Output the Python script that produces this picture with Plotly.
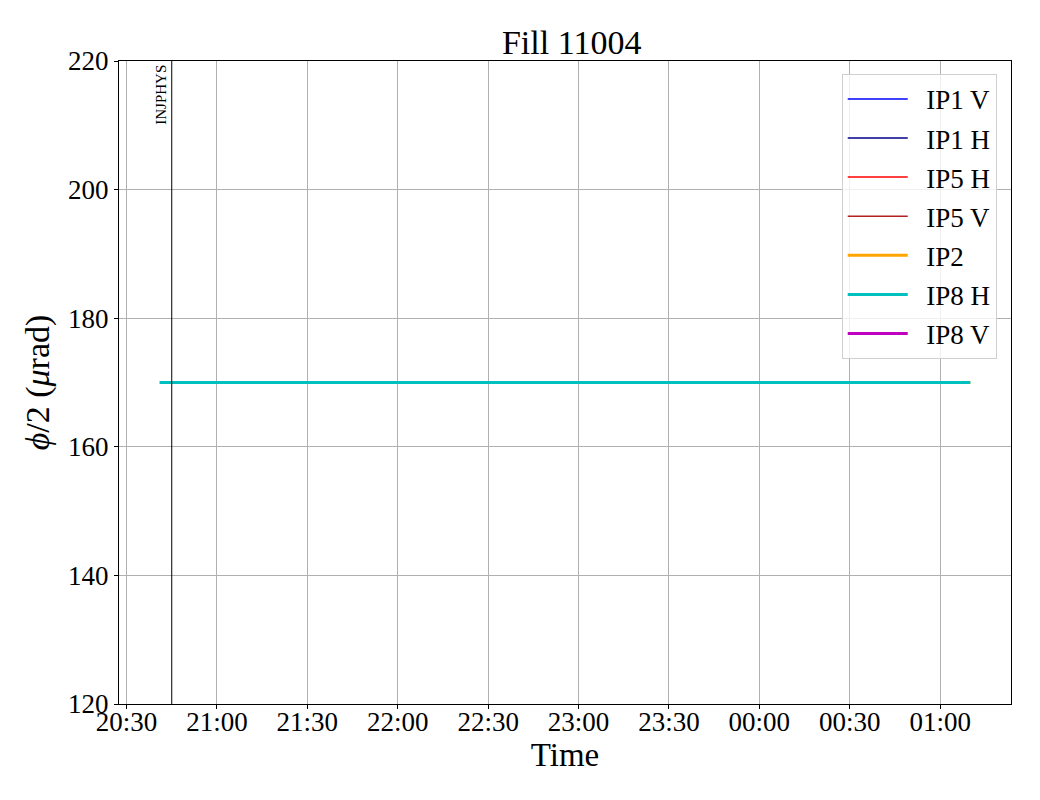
import plotly.graph_objects as go

# Data
series_names = ["IP1 V", "IP1 H", "IP5 H", "IP5 V", "IP2", "IP8 H", "IP8 V"]
series_colors = ["#0000ff", "#00008b", "#ff0000", "#b22222", "#ffa500", "#00bfbf", "#bf00bf"]
series_widths = [1.5, 1.5, 1.5, 1.5, 3, 3, 3]
times = ["2025-08-10 20:41:00", "2025-08-11 01:10:00"]
ip2_values = [170, 170]
ip8h_values = [170, 170]
series_data = {"IP2": ip2_values, "IP8 H": ip8h_values}
mode_time = "2025-08-10 20:45:00"
mode_label = "INJPHYS"

FONT = "Liberation Serif, Times New Roman, serif"

fig = go.Figure()
for i, (name, color, w) in enumerate(zip(series_names, series_colors, series_widths)):
    vals = series_data.get(name)
    fig.add_trace(go.Scatter(
        x=times if vals else [None], y=vals if vals else [None],
        mode="lines", name="\u00a0\u00a0" + name, legendgroup=f"g{i}",
        line=dict(color=color, width=w)))

fig.add_shape(type="line", xref="x", yref="paper", x0=mode_time, x1=mode_time,
              y0=0, y1=1, line=dict(color="black", width=1))
fig.add_annotation(x=mode_time, y=1, xref="x", yref="paper", text=mode_label,
                   textangle=-90, showarrow=False, xanchor="right", yanchor="top",
                   xshift=-1, yshift=-2, font=dict(family=FONT, size=15, color="black"))

fig.update_layout(
    width=1040, height=800,
    margin=dict(l=111, r=37, t=53, b=104),
    paper_bgcolor="white", plot_bgcolor="white",
    font=dict(family=FONT, size=27, color="black"),
    title=dict(text="Fill 11004", x=0.542, xanchor="center", y=0.9575, yanchor="middle",
               font=dict(family=FONT, size=34)),
    legend=dict(x=0.984, xanchor="right", y=0.98, yanchor="top",
                bordercolor="#d0d0d0", borderwidth=1, bgcolor="rgba(255,255,255,0.8)",
                font=dict(family=FONT, size=27), tracegroupgap=1, itemwidth=60),
    showlegend=True,
)
fig.update_xaxes(
    type="date", range=["2025-08-10 20:27:30", "2025-08-11 01:23:30"],
    tick0="2025-08-10 20:30:00", dtick=1800000, tickformat="%H:%M",
    showgrid=True, gridcolor="#b0b0b0", gridwidth=1,
    showline=True, linecolor="black", linewidth=1, mirror=True,
    ticks="outside", ticklen=4, tickcolor="black", ticklabelstandoff=-10,
    tickfont=dict(family=FONT, size=27),
    title=dict(text="Time", font=dict(family=FONT, size=33), standoff=2),
    zeroline=False)
fig.update_yaxes(
    range=[120, 220], tick0=120, dtick=20,
    showgrid=True, gridcolor="#b0b0b0", gridwidth=1,
    showline=True, linecolor="black", linewidth=1, mirror=True,
    ticks="outside", ticklen=4, tickcolor="black",
    tickfont=dict(family=FONT, size=27),
    title=dict(text="<i>ϕ</i>/2 (<i>μ</i>rad)", font=dict(family=FONT, size=34), standoff=8),
    zeroline=False)

fig.write_html("out.html")
